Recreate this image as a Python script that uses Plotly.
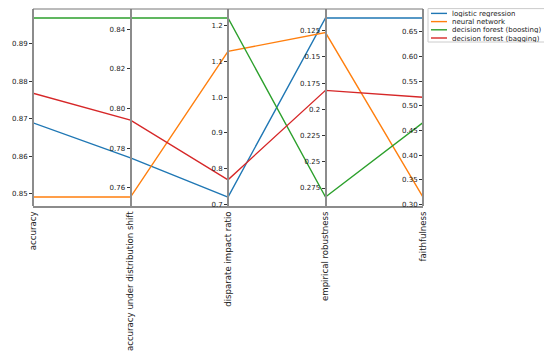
import plotly.graph_objects as go

# ---- data ----
dimensions = ["accuracy", "accuracy under distribution shift", "disparate impact ratio",
              "empirical robustness", "faithfulness"]
inverted = [False, False, False, True, False]
models = ["logistic regression", "neural network", "decision forest (boosting)", "decision forest (bagging)"]
colors = ["#1f77b4", "#ff7f0e", "#2ca02c", "#d62728"]

logistic_regression = [0.8689, 0.7751, 0.7207, 0.1129, 0.6783]
neural_network = [0.8491, 0.7553, 1.128, 0.1269, 0.315]
boosting = [0.8969, 0.8457, 1.2215, 0.2836, 0.4662]
bagging = [0.8768, 0.7941, 0.769, 0.1819, 0.5173]
series = [logistic_regression, neural_network, boosting, bagging]

tick_vals = [
    [0.85, 0.86, 0.87, 0.88, 0.89],
    [0.76, 0.78, 0.80, 0.82, 0.84],
    [0.7, 0.8, 0.9, 1.0, 1.1, 1.2],
    [0.125, 0.15, 0.175, 0.2, 0.225, 0.25, 0.275],
    [0.30, 0.35, 0.40, 0.45, 0.50, 0.55, 0.60, 0.65],
]
tick_text = [
    ["0.85", "0.86", "0.87", "0.88", "0.89"],
    ["0.76", "0.78", "0.80", "0.82", "0.84"],
    ["0.7", "0.8", "0.9", "1.0", "1.1", "1.2"],
    ["0.125", "0.15", "0.175", "0.2", "0.225", "0.25", "0.275"],
    ["0.30", "0.35", "0.40", "0.45", "0.50", "0.55", "0.60", "0.65"],
]

# ---- per-axis scales (matplotlib-like 5% margins) ----
n_dim = len(dimensions)
ranges = []
for k in range(n_dim):
    col = [s[k] for s in series]
    lo, hi = min(col), max(col)
    pad = 0.05 * (hi - lo)
    ranges.append((lo - pad, hi + pad))


def norm(v, k):
    lo, hi = ranges[k]
    t = (v - lo) / (hi - lo)
    return 1 - t if inverted[k] else t


# page offset of the plot div (default body margin) is 8px
OFF = 8
W, H = 552 - OFF, 359 - OFF
L, T = 33 - OFF, 9 - OFF
PW, PH = 390, 197
R, B = W - L - PW, H - T - PH

fig = go.Figure()
for name, vals, c in zip(models, series, colors):
    fig.add_trace(go.Scatter(
        x=list(range(n_dim)), y=[norm(v, k) for k, v in enumerate(vals)],
        mode="lines", line=dict(color=c, width=1.4), name=name,
        showlegend=False, hoverinfo="skip"))

# invisible traces tying real values to each axis
for k in range(n_dim):
    fig.add_trace(go.Scatter(
        x=[k] * len(series), y=[s[k] for s in series], yaxis="y%d" % (k + 2),
        mode="markers", marker=dict(opacity=0), showlegend=False, hoverinfo="skip"))

layout = dict(
    width=W, height=H,
    margin=dict(l=L, r=R, t=T, b=B, pad=0, autoexpand=False),
    paper_bgcolor="white", plot_bgcolor="white",
    font=dict(family="DejaVu Sans", color="#222"),
    xaxis=dict(range=[0, n_dim - 1], domain=[0, 1], tickvals=list(range(n_dim)),
               ticktext=dimensions, tickangle=-90, tickfont=dict(size=8.6, color="#222"),
               showgrid=False, zeroline=False, showline=True, linecolor="#8c8c8c",
               linewidth=2, ticks="", fixedrange=True, automargin=False),
    yaxis=dict(range=[0, 1], visible=False, fixedrange=True, automargin=False),
    showlegend=False,
)
for k in range(n_dim):
    lo, hi = ranges[k]
    layout["yaxis%d" % (k + 2)] = dict(
        overlaying="y", anchor="free", position=k / (n_dim - 1), side="left",
        range=[hi, lo] if inverted[k] else [lo, hi],
        tickvals=tick_vals[k], ticktext=tick_text[k],
        tickfont=dict(size=7, color="#222"),
        ticks="outside", ticklen=3, tickwidth=1, tickcolor="#333",
        showline=True, linecolor="#8c8c8c", linewidth=2,
        showgrid=False, zeroline=False, fixedrange=True, automargin=False)
fig.update_layout(**layout)


# helpers: page pixel -> paper coordinate
def px(xp):
    return (xp - OFF - L) / PW


def py(yp):
    return (T + PH - (yp - OFF)) / PH


shapes = [dict(type="line", xref="paper", yref="paper", x0=0, x1=1, y0=1, y1=1,
               line=dict(color="#777", width=1))]
# legend box
shapes.append(dict(type="rect", xref="paper", yref="paper",
                   x0=px(428), x1=px(547), y0=py(42), y1=py(8.6),
                   line=dict(color="#cccccc", width=1), fillcolor="white"))
annotations = []
row_y = [13.4, 21.6, 29.8, 38.0]
for name, c, ry in zip(models, colors, row_y):
    shapes.append(dict(type="line", xref="paper", yref="paper",
                       x0=px(431), x1=px(447), y0=py(ry), y1=py(ry),
                       line=dict(color=c, width=1.4)))
    annotations.append(dict(xref="paper", yref="paper", x=px(451), y=py(ry),
                            text=name, showarrow=False, xanchor="left", yanchor="middle",
                            height=7, borderpad=0, valign="middle",
                            font=dict(size=7, color="#222")))
fig.update_layout(shapes=shapes, annotations=annotations)

fig.write_html("out.html")
